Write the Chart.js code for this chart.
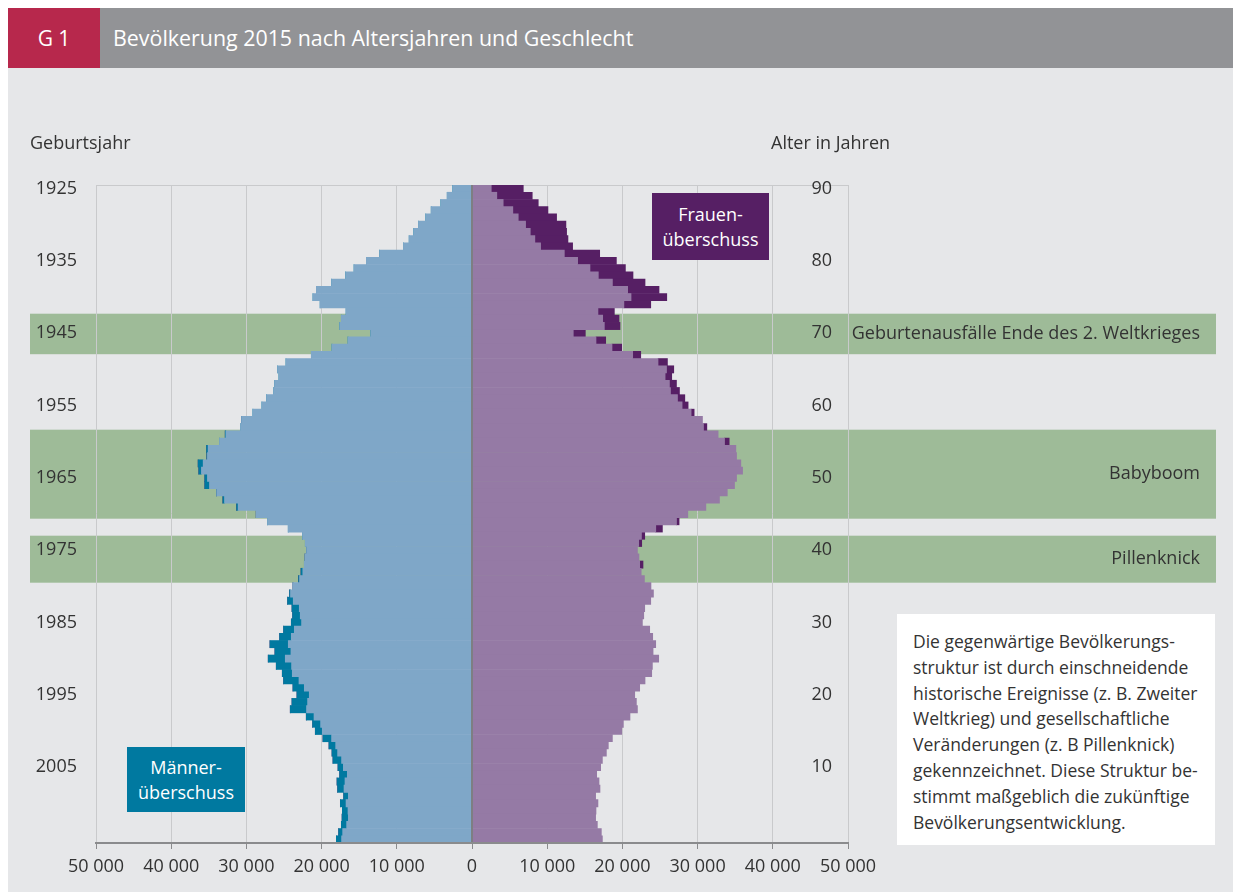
<!DOCTYPE html>
<html><head><meta charset="utf-8">
<script src="https://cdn.jsdelivr.net/npm/chart.js@4.4.0/dist/chart.umd.min.js"></script>
<style>
body{margin:0;background:#fff;font-family:'Open Sans',sans-serif;}
#wrap{position:relative;width:1233px;height:892px;overflow:hidden;}
.bg{position:absolute;left:8px;top:68px;width:1225px;height:824px;background:#e6e7e9;}
canvas{position:absolute;left:0;top:0;}
.hdr{position:absolute;left:8px;top:8px;width:1225px;height:60px;background:#929396;}
.g1{position:absolute;left:8px;top:8px;width:92px;height:60px;background:#b7284c;color:#fff;font-size:21px;font-weight:400;line-height:60px;text-align:center;}
.title{position:absolute;left:113px;top:8px;height:60px;line-height:60px;color:#fff;font-size:21.4px;font-weight:400;white-space:nowrap;}
.lbl{position:absolute;color:#333;font-size:18px;line-height:24px;white-space:nowrap;}
.box{position:absolute;color:#fff;font-size:18px;line-height:25px;text-align:center;display:flex;align-items:center;justify-content:center;}
.note{position:absolute;left:897px;top:614px;width:318px;height:231px;background:#fff;box-sizing:border-box;padding:15px 0 0 16px;color:#333;font-size:17.5px;line-height:25.8px;white-space:nowrap;}
</style></head>
<body><div id="wrap">
<div class="bg"></div>
<canvas id="c" width="1233" height="892"></canvas>
<div class="hdr"></div>
<div class="g1">G 1</div>
<div class="title">Bevölkerung 2015 nach Altersjahren und Geschlecht</div>
<div class="lbl" style="left:30px;top:130px;">Geburtsjahr</div>
<div class="lbl" style="left:771px;top:130px;">Alter in Jahren</div>
<div class="box" style="left:652px;top:193px;width:117px;height:67px;background:#561f64;">Frauen-<br>überschuss</div>
<div class="box" style="left:127px;top:747px;width:118px;height:65px;background:#0079a0;">Männer-<br>überschuss</div>
<div class="note">Die gegenwärtige Bevölkerungs-<br>struktur ist durch einschneidende<br>historische Ereignisse (z. B. Zweiter<br>Weltkrieg) und gesellschaftliche<br>Veränderungen (z. B Pillenknick)<br>gekennzeichnet. Diese Struktur be-<br>stimmt maßgeblich die zukünftige<br>Bevölkerungsentwicklung.</div>
</div>
<script>
// ages 0..90
const ages = [];
for (let a = 0; a <= 90; a++) ages.push(a);
const refYear = 2015;

const men = [18040,17740,17380,17280,17240,17510,17070,17870,17950,17600,
17820,18490,18620,19020,19820,20840,21200,22040,24170,23940,
23280,23810,25060,25230,26030,27100,26210,26870,25590,25060,
24030,23860,23940,24530,24260,23800,23060,22740,22300,22200,
22000,22170,22530,24440,27190,28700,31300,33130,33950,35530,
35530,36330,36420,35260,35300,33580,32820,30780,30650,29140,
27940,27320,26390,26250,25680,25860,24740,21370,18620,16490,
13470,17600,17380,16750,20200,21150,20700,18670,16800,15690,
14050,12280,9120,8360,7750,7120,6150,5430,4150,3300,
2560];

const women = [17340,17200,16670,16440,16490,16750,16440,17020,16890,16580,
17110,17340,17870,18130,18670,19910,20130,21010,22000,21860,
21640,22300,23010,23900,23990,24830,24080,24430,24030,23630,
22660,22840,22970,23770,24130,23800,22930,22500,22740,22200,
22000,22570,22970,25320,27540,28700,31100,32910,33950,34910,
35180,35980,35750,35180,35090,34200,32730,31230,30650,29540,
28740,28300,27590,27190,26560,26830,25990,22440,19900,17780,
15070,19680,19550,18930,23770,25900,24870,23010,21410,20400,
19200,16980,13380,12760,12580,12490,11250,10100,8810,8010,
6820];

const xTicks = [-50000,-40000,-30000,-20000,-10000,0,10000,20000,30000,40000,50000];
const bandTop = [72.7, 56.66, 42.0];
const bandBottom = [67.1, 44.35, 35.5];
const bandLabels = ['Geburtenausfälle Ende des 2. Weltkrieges','Babyboom','Pillenknick'];

const COL = {menC:'#7fa7c8', menS:'#0079a0', womC:'#957aa5', womS:'#561f64', band:'#9ebb98', grid:'#c9cacc', axis:'#8a8b8d', text:'#333333'};
const FONT = "'Open Sans', sans-serif";

// top-to-bottom order: age 90 first
const labels = ages.slice().reverse();
const rev = arr => arr.slice().reverse();
const menCommon = rev(ages.map(a => -Math.min(men[a], women[a])));
const menSurplus = rev(ages.map(a => -Math.max(0, men[a] - women[a])));
const womCommon = rev(ages.map(a => Math.min(men[a], women[a])));
const womSurplus = rev(ages.map(a => Math.max(0, women[a] - men[a])));
const maxAge = ages[ages.length - 1];

function agePx(scale, age) { return scale.getPixelForValue(maxAge - age); }

const deco = {
  id: 'deco',
  beforeDraw(chart) {
    const ctx = chart.ctx, y = chart.scales.y, a = chart.chartArea;
    ctx.save();
    for (let i = 0; i < bandTop.length; i++) {
      const y1 = agePx(y, bandTop[i]), y2 = agePx(y, bandBottom[i]);
      ctx.fillStyle = COL.band;
      ctx.fillRect(30, y1, 1186, y2 - y1);
      ctx.fillStyle = COL.text;
      ctx.font = '18px ' + FONT;
      ctx.textAlign = 'right';
      ctx.textBaseline = 'middle';
      ctx.fillText(bandLabels[i], 1200, (y1 + y2) / 2);
    }
    ctx.strokeStyle = COL.grid; ctx.lineWidth = 1;
    ctx.beginPath(); ctx.moveTo(a.left, a.top + 0.5); ctx.lineTo(a.right, a.top + 0.5); ctx.stroke();
    ctx.restore();
  },
  afterDatasetsDraw(chart) {
    const ctx = chart.ctx, a = chart.chartArea, x = chart.scales.x;
    ctx.save();
    const x0 = x.getPixelForValue(0);
    ctx.strokeStyle = '#7d7f83'; ctx.lineWidth = 2;
    ctx.beginPath(); ctx.moveTo(x0, a.top); ctx.lineTo(x0, a.bottom); ctx.stroke();
    ctx.strokeStyle = COL.axis; ctx.lineWidth = 2;
    ctx.beginPath(); ctx.moveTo(a.left, a.bottom); ctx.lineTo(a.right, a.bottom); ctx.stroke();
    ctx.restore();
  }
};

const fmt = v => Math.abs(v).toString().replace(/\B(?=(\d{3})+(?!\d))/g, ' ');

new Chart(document.getElementById('c'), {
  type: 'bar',
  data: {
    labels: labels,
    datasets: [
      {data: menCommon, backgroundColor: COL.menC},
      {data: menSurplus, backgroundColor: COL.menS},
      {data: womCommon, backgroundColor: COL.womC},
      {data: womSurplus, backgroundColor: COL.womS}
    ]
  },
  options: {
    indexAxis: 'y',
    responsive: false,
    animation: false,
    events: [],
    datasets: {bar: {barPercentage: 1, categoryPercentage: 1, borderWidth: 0}},
    layout: {padding: {top: 185, left: 0, right: 385, bottom: 0}},
    plugins: {legend: {display: false}, tooltip: {enabled: false}},
    scales: {
      x: {
        type: 'linear', stacked: true, min: -50000, max: 50000,
        afterBuildTicks: s => { s.ticks = xTicks.map(v => ({value: v})); },
        afterFit: s => { s.height = 49; },
        grid: {color: COL.grid, lineWidth: 1, tickColor: COL.axis, tickLength: 6, drawTicks: true},
        border: {display: true, color: COL.axis, width: 2},
        ticks: {callback: v => fmt(v), color: COL.text, font: {family: FONT, size: 18}, padding: 7, maxRotation: 0, autoSkip: false}
      },
      y: {
        type: 'category', stacked: true, position: 'left',
        afterFit: s => { s.width = 96; },
        grid: {display: false, drawTicks: false},
        border: {display: false},
        ticks: {autoSkip: false, padding: 19, color: COL.text, font: {family: FONT, size: 18},
          callback: function(v, i) { const a = labels[i]; return (a % 10 === 0 && a > 0) ? String(refYear - a) : ''; }}
      },
      y2: {
        type: 'category', position: 'right',
        afterFit: s => { s.width = 0; },
        grid: {display: false, drawTicks: false},
        border: {display: false},
        ticks: {autoSkip: false, mirror: true, padding: -16, color: COL.text, font: {family: FONT, size: 18},
          callback: function(v, i) { const a = labels[i]; return (a % 10 === 0 && a > 0) ? String(a) : ''; }}
      }
    }
  },
  plugins: [deco]
});
</script>
</body></html>
